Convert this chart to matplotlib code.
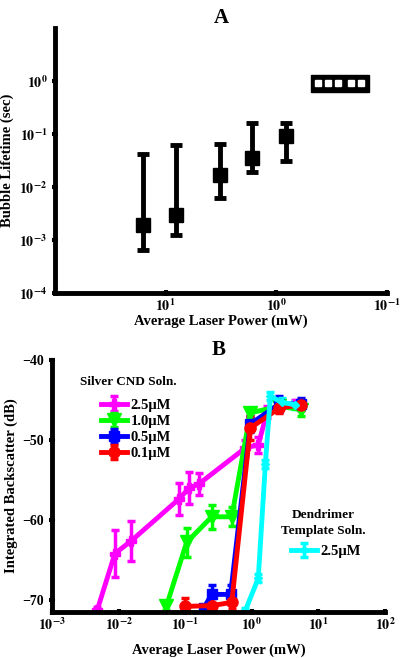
import matplotlib
matplotlib.use('Agg')
import matplotlib.pyplot as plt
from matplotlib.patches import Rectangle
from matplotlib.ticker import FuncFormatter
import numpy as np

plt.rcParams['font.family'] = ['Liberation Serif', 'DejaVu Serif']
plt.rcParams['font.weight'] = 'bold'
plt.rcParams['axes.labelweight'] = 'bold'
plt.rcParams['axes.titleweight'] = 'bold'
plt.rcParams['mathtext.fontset'] = 'stix'

# panel A data: bubble lifetime vs power
powerA = [16.0, 8.1, 3.2, 1.65, 0.81]
lifetime = [0.0019, 0.0030, 0.017, 0.035, 0.090]
life_lo = [0.00065, 0.00125, 0.0063, 0.019, 0.031]
life_hi = [0.042, 0.062, 0.065, 0.16, 0.16]

# panel B data: integrated backscatter
mag_x = [0.0048, 0.0088, 0.0155, 0.08, 0.115, 0.16, 0.8, 1.25, 1.7, 2.6, 4.5]
mag_y = [-71.2, -64.2, -62.6, -57.4, -56.0, -55.5, -51.0, -50.6, -46.5, -46.0, -45.5]
mag_e = [0.3, 2.9, 2.5, 2.0, 2.0, 1.4, 1.0, 1.0, 0.8, 0.5, 0.5]

grn_x = [0.052, 0.105, 0.25, 0.5, 0.95, 2.6, 5.5]
grn_y = [-70.8, -62.8, -59.6, -59.6, -46.6, -45.8, -46.2]
grn_e = [0.5, 1.8, 1.5, 1.2, 0.6, 0.6, 0.8]

blu_x = [0.19, 0.25, 0.48, 0.95, 2.6, 5.5]
blu_y = [-71.0, -69.3, -69.3, -48.0, -45.5, -45.5]
blu_e = [0.3, 1.2, 1.2, 1.0, 1.0, 0.8]

red_x = [0.1, 0.25, 0.5, 0.95, 2.6, 5.5]
red_y = [-70.8, -70.7, -70.3, -48.5, -46.0, -45.6]
red_e = [1.0, 1.0, 0.8, 1.5, 0.6, 0.6]

cyn_x = [0.8, 1.25, 1.6, 1.9, 2.8, 4.5]
cyn_y = [-71.3, -67.3, -53.0, -44.5, -45.3, -45.6]
cyn_e = [0.3, 0.5, 0.5, 0.5, 0.5, 0.5]

fig = plt.figure(figsize=(4, 6.58), dpi=100)

# bold powers of ten
pow10 = FuncFormatter(lambda v, p: r'$\mathbf{10^{%d}}$' % round(np.log10(v)))

def style(ax):
    for s in ['top', 'right']:
        ax.spines[s].set_visible(False)
    for s in ['left', 'bottom']:
        ax.spines[s].set_linewidth(3.5)
    ax.tick_params(which='major', direction='inout', length=5, width=3, labelsize=10, pad=3)
    ax.tick_params(axis='x', pad=1)
    ax.tick_params(which='minor', length=0)
    for t in ax.get_xticklabels() + ax.get_yticklabels():
        t.set_fontweight('bold')

# ---- panel A
axA = fig.add_axes([0.1375, 0.5547, 0.83, 0.4027])
yerr = [np.array(lifetime) - np.array(life_lo), np.array(life_hi) - np.array(lifetime)]
axA.errorbar(powerA, lifetime, yerr=yerr, fmt='s', color='black', ms=10,
             elinewidth=3.5, capsize=4, capthick=3.5)
axA.set_xscale('log')
axA.set_yscale('log')
axA.set_xlim(100, 0.1)
axA.set_ylim(1e-4, 1e1)
axA.set_xticks([10, 1, 0.1])
axA.set_yticks([1e-4, 1e-3, 1e-2, 1e-1, 1e0])
axA.xaxis.set_major_formatter(pow10)
axA.yaxis.set_major_formatter(pow10)
style(axA)
axA.set_xlabel('Average Laser Power (mW)', fontsize=10.5, labelpad=0)
axA.set_ylabel('Bubble Lifetime (sec)', fontsize=10.5, labelpad=4)
axA.set_title('A', fontsize=15, pad=3)
# black legend-like box
axA.add_patch(Rectangle((0.771, 0.758), 0.175, 0.065, transform=axA.transAxes,
                        color='black', clip_on=False))
axA.plot([0.793, 0.821, 0.851, 0.892, 0.922], [0.791] * 5, 's', color='white', ms=4,
         transform=axA.transAxes)

# ---- panel B
axB = fig.add_axes([0.13, 0.0699, 0.8325, 0.383])
kw = dict(lw=3.5, elinewidth=2.5, capsize=3, capthick=2.5)
h1 = axB.errorbar(mag_x, mag_y, yerr=mag_e, color='#ff00ff', marker='P', ms=7, label='2.5μM', **kw)
h2 = axB.errorbar(grn_x, grn_y, yerr=grn_e, color='#00ff00', marker='v', ms=10, label='1.0μM', **kw)
h3 = axB.errorbar(blu_x, blu_y, yerr=blu_e, color='#0000ff', marker='s', ms=7, label='0.5μM', **kw)
h4 = axB.errorbar(red_x, red_y, yerr=red_e, color='#ff0000', marker='o', ms=8, label='0.1μM', **kw)
h5 = axB.errorbar(cyn_x, cyn_y, yerr=cyn_e, color='#00ffff', marker='D', ms=4, label='2.5μM', **kw)
axB.set_xscale('log')
axB.set_xlim(1e-3, 1e2)
axB.set_ylim(-71.5, -40)
axB.set_xticks([1e-3, 1e-2, 1e-1, 1e0, 1e1, 1e2])
axB.set_yticks([-40, -50, -60, -70])
axB.xaxis.set_major_formatter(pow10)
style(axB)
axB.set_xlabel('Average Laser Power (mW)', fontsize=10.5, labelpad=7)
axB.set_ylabel('Integrated Backscatter (dB)', fontsize=10.5, labelpad=3)
axB.set_title('B', fontsize=15, pad=3)

axB.text(0.084, 0.913, 'Silver CND Soln.', transform=axB.transAxes, fontsize=9.5,
         va='center', ha='left')
leg1 = axB.legend(handles=[h1, h2, h3, h4], loc='upper left', bbox_to_anchor=(0.13, 0.87),
                  frameon=False, fontsize=10.5, handlelength=1.8, handletextpad=0.2,
                  labelspacing=0.2, borderaxespad=0)
axB.add_artist(leg1)
axB.text(0.814, 0.355, 'Dendrimer\nTemplate Soln.', transform=axB.transAxes, fontsize=9.5,
         va='center', ha='center', linespacing=1.45)
axB.legend(handles=[h5], loc='upper left', bbox_to_anchor=(0.7, 0.29),
           frameon=False, fontsize=10.5, handlelength=1.8, handletextpad=0.2, borderaxespad=0)

fig.savefig('out.png', dpi=100)
